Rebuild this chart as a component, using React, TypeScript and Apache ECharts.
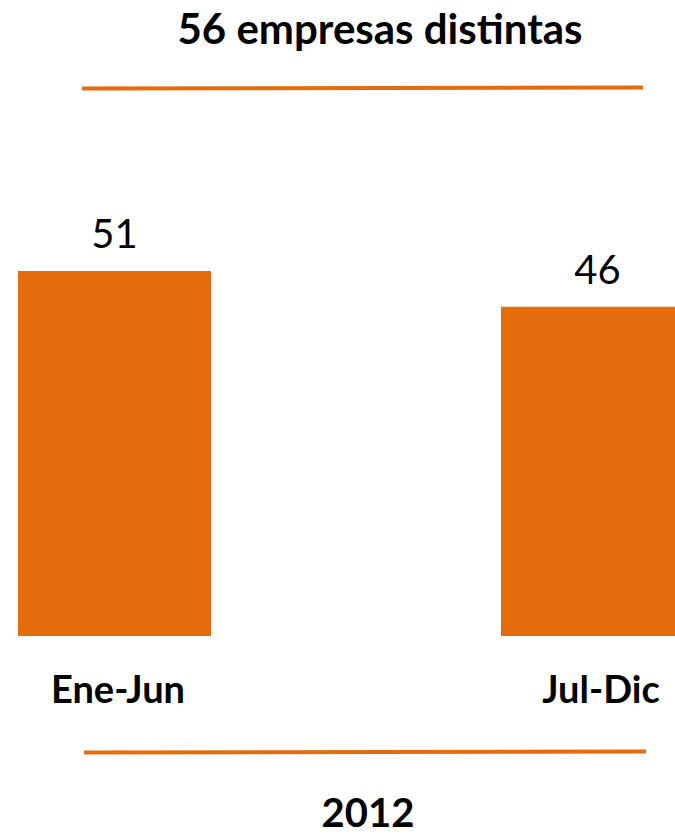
import React, { useEffect, useRef } from "react";
import * as echarts from "echarts";

const categories = ["Ene-Jun", "Jul-Dic"];
const values = [51, 46];
const titleText = "56 empresas distintas";
const yearText = "2012";

const ORANGE = "#E46C0A";
const FONT = "Lato, 'Open Sans', sans-serif";

export default function App() {
  const ref = useRef<HTMLDivElement>(null);
  useEffect(() => {
    if (!ref.current) return;
    const chart = echarts.init(ref.current, undefined, { renderer: "svg" });
    chart.setOption({
      animation: false,
      backgroundColor: "#ffffff",
      grid: { left: 114.5, right: 77.5, top: 206.6, bottom: 200, containLabel: false },
      xAxis: {
        type: "category",
        data: categories,
        boundaryGap: false,
        axisLine: { show: false },
        axisTick: { show: false },
        splitLine: { show: false },
        axisLabel: {
          margin: 33,
          color: "#000",
          fontFamily: FONT,
          fontWeight: "bold",
          fontSize: 38,
          interval: 0,
          padding: [0, 0, 0, 7],
        },
      },
      yAxis: {
        type: "value",
        min: 0,
        max: 60,
        show: false,
        splitLine: { show: false },
      },
      series: [
        {
          type: "bar",
          data: values,
          barWidth: 193,
          clip: false,
          itemStyle: { color: ORANGE },
          label: {
            show: true,
            position: "top",
            distance: 18,
            color: "#000",
            fontFamily: FONT,
            fontSize: 40,
          },
        },
      ],
      graphic: [
        {
          type: "text",
          x: 380,
          y: 28,
          style: {
            text: titleText,
            fill: "#000",
            font: `bold 42px ${FONT}`,
            textAlign: "center",
            textVerticalAlign: "middle",
          },
        },
        {
          type: "line",
          shape: { x1: 82, y1: 88.5, x2: 643, y2: 87.5 },
          style: { stroke: ORANGE, lineWidth: 4 },
        },
        {
          type: "line",
          shape: { x1: 84, y1: 752.5, x2: 646, y2: 751.5 },
          style: { stroke: ORANGE, lineWidth: 4 },
        },
        {
          type: "text",
          x: 368,
          y: 812,
          style: {
            text: yearText,
            fill: "#000",
            font: `bold 40px ${FONT}`,
            textAlign: "center",
            textVerticalAlign: "middle",
          },
        },
      ],
    });
    return () => chart.dispose();
  }, []);
  return (
    <div
      ref={ref}
      style={{ position: "absolute", left: 0, top: 0, width: 675, height: 836 }}
    />
  );
}
